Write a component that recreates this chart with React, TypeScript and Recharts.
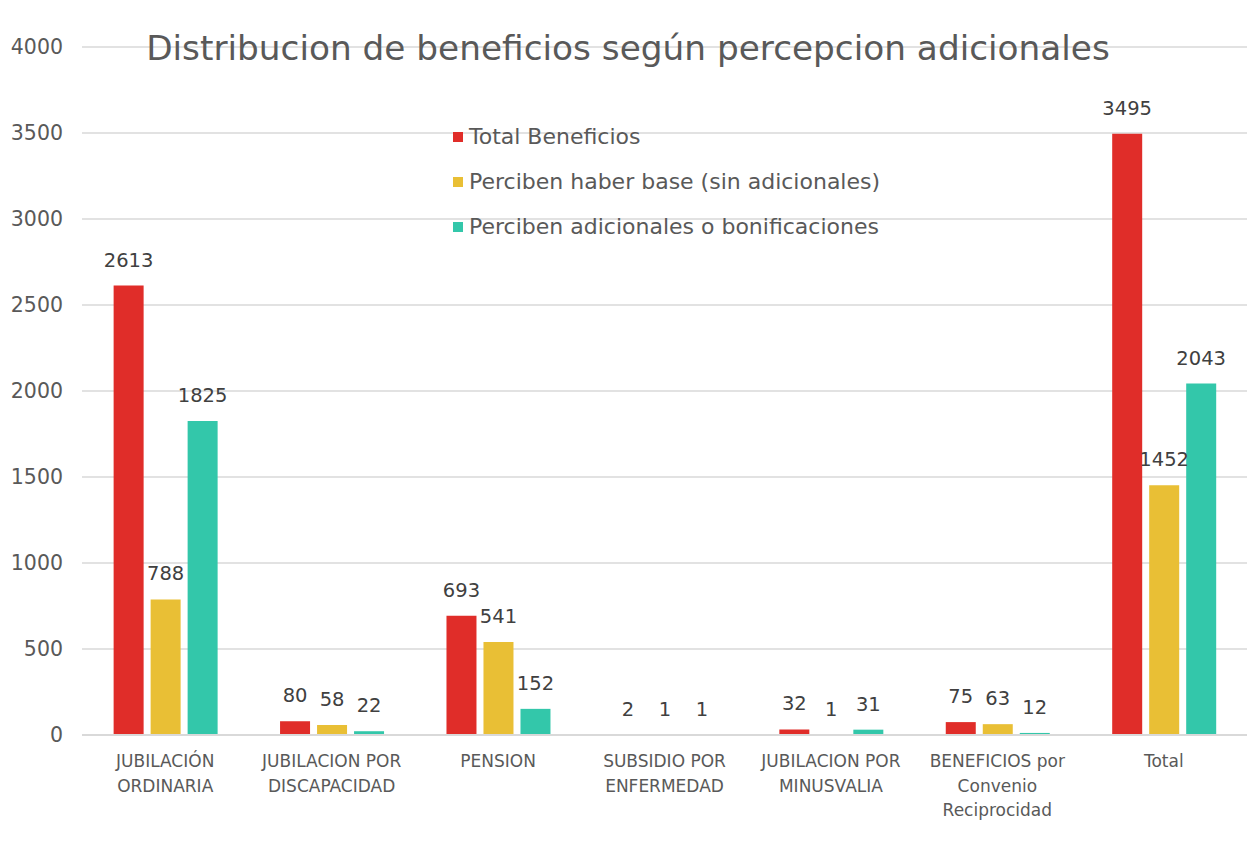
import React from 'react';
import { BarChart, Bar, XAxis, YAxis, CartesianGrid, Legend, LabelList } from 'recharts';

const categories = [
    'JUBILACIÓN\nORDINARIA',
    'JUBILACION POR\nDISCAPACIDAD',
    'PENSION',
    'SUBSIDIO POR\nENFERMEDAD',
    'JUBILACION POR\nMINUSVALIA',
    'BENEFICIOS por\nConvenio\nReciprocidad',
    'Total',
];
const totalBeneficios = [2613, 80, 693, 2, 32, 75, 3495];
const haberBase = [788, 58, 541, 1, 1, 63, 1452];
const adicionales = [1825, 22, 152, 1, 31, 12, 2043];
const yTicks = [0, 500, 1000, 1500, 2000, 2500, 3000, 3500, 4000];

const seriesNames = [
    'Total Beneficios',
    'Perciben haber base (sin adicionales)',
    'Perciben adicionales o bonificaciones',
];

const data = categories.map((c, i) => ({
    name: c,
    total: totalBeneficios[i],
    base: haberBase[i],
    adic: adicionales[i],
}));

const FONT = '"DejaVu Sans", sans-serif';
const GRID = '#d9d9d9';

const CategoryTick = (props: any) => {
    const { x, y, payload } = props;
    const lines = String(payload.value).split('\n');
    return (
        <text x={x} y={y} textAnchor="middle" fill="#595959" fontSize={17} fontFamily={FONT}>
            {lines.map((l, i) => (
                <tspan key={i} x={x} dy={i === 0 ? 24 : 24.5}>{l}</tspan>
            ))}
        </text>
    );
};

const LegendBox = (props: any) => {
    // keep series order top to bottom
    const items = [...(props.payload || [])].sort(
        (a: any, b: any) => seriesNames.indexOf(a.value) - seriesNames.indexOf(b.value));
    return (
        <div style={{ fontFamily: FONT, fontSize: 22, color: '#595959' }}>
            {items.map((it: any, i: number) => (
                <div key={i} style={{ height: 45, display: 'flex', alignItems: 'center', whiteSpace: 'nowrap' }}>
                    <span style={{ width: 10, height: 10, background: it.color, marginRight: 6, display: 'inline-block' }} />
                    {it.value}
                </div>
            ))}
        </div>
    );
};

export default function App() {
    return (
        <div style={{
            position: 'relative', width: 1241, height: 849, margin: '-1px 0 0 -1px',
            borderTop: `1px solid ${GRID}`, borderLeft: `1px solid ${GRID}`, borderRight: `1px solid ${GRID}`,
            background: '#fff',
        }}>
            <BarChart width={1241} height={849} data={data}
                margin={{ top: 39, right: 2, bottom: 22, left: 0 }}
                barCategoryGap="19%" barGap={7}>
                <CartesianGrid vertical={false} stroke={GRID} strokeWidth={1.3} />
                <XAxis dataKey="name" height={100} tickLine={false} axisLine={{ stroke: GRID, strokeWidth: 2 }}
                    tick={<CategoryTick />} interval={0} />
                <YAxis width={74} domain={[0, 4000]} ticks={yTicks} axisLine={false} tickLine={false}
                    tickMargin={13} tick={{ fill: '#595959', fontSize: 20.5, fontFamily: FONT }} />
                <Legend layout="vertical" align="center" verticalAlign="middle"
                    wrapperStyle={{ position: 'absolute', left: 445, top: 106, width: 'auto' }}
                    content={<LegendBox />} />
                <Bar dataKey="total" name={seriesNames[0]} fill="#e02d29" isAnimationActive={false}>
                    <LabelList dataKey="total" position="top" offset={19} fill="#404040" fontSize={19.5} fontFamily={FONT} />
                </Bar>
                <Bar dataKey="base" name={seriesNames[1]} fill="#e9bf35" isAnimationActive={false}>
                    <LabelList dataKey="base" position="top" offset={19} fill="#404040" fontSize={19.5} fontFamily={FONT} />
                </Bar>
                <Bar dataKey="adic" name={seriesNames[2]} fill="#33c7aa" isAnimationActive={false}>
                    <LabelList dataKey="adic" position="top" offset={19} fill="#404040" fontSize={19.5} fontFamily={FONT} />
                </Bar>
            </BarChart>
            <div style={{
                position: 'absolute', top: 20, left: 0, width: 1240, textAlign: 'center',
                fontFamily: FONT, fontSize: 34.3, color: '#595959', pointerEvents: 'none',
            }}>
                Distribucion de beneficios según percepcion adicionales
            </div>
        </div>
    );
}
